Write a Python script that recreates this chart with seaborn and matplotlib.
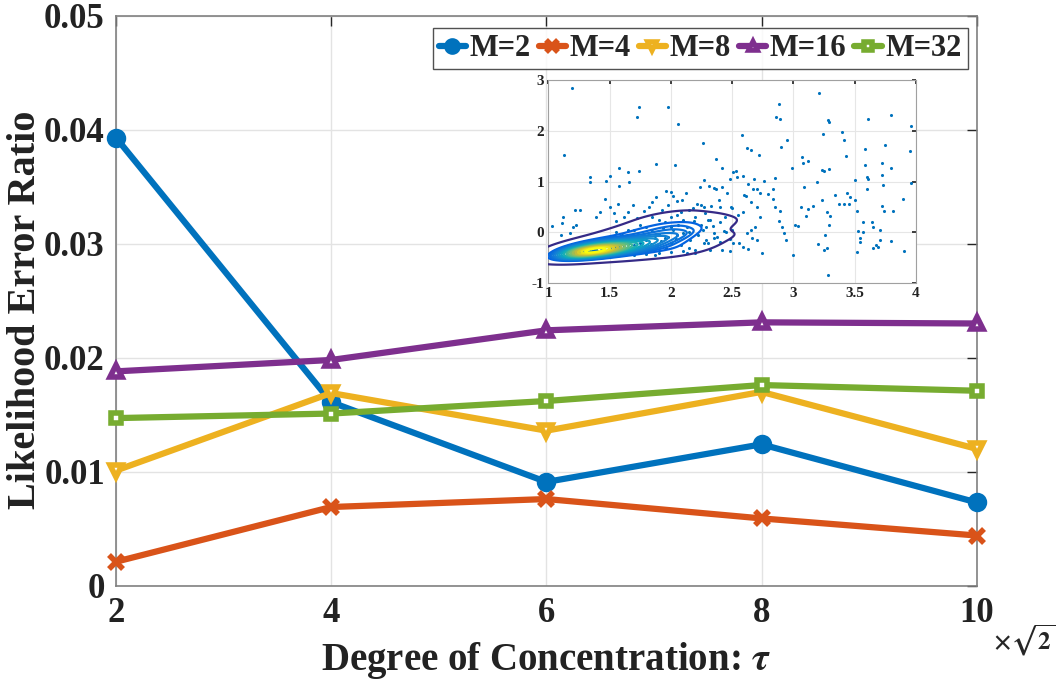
import numpy as np
import pandas as pd
import matplotlib
matplotlib.use("Agg")
import matplotlib.pyplot as plt
from matplotlib.colors import LinearSegmentedColormap
import seaborn as sns

# ---------------- data ----------------
tau = [2, 4, 6, 8, 10]
labels = ["M=2", "M=4", "M=8", "M=16", "M=32"]
m2 = [0.0393, 0.0161, 0.0091, 0.0124, 0.0073]
m4 = [0.0021, 0.0069, 0.0076, 0.0059, 0.0044]
m8 = [0.0101, 0.0169, 0.0136, 0.0170, 0.0120]
m16 = [0.0188, 0.0198, 0.0224, 0.0231, 0.0230]
m32 = [0.0147, 0.0151, 0.0162, 0.0176, 0.0171]
yticks = [0, 0.01, 0.02, 0.03, 0.04, 0.05]
yticklabels = ["0", "0.01", "0.02", "0.03", "0.04", "0.05"]
xticks = [2, 4, 6, 8, 10]

# inset: scattered samples
scat_x = [1.19, 1.13, 1.03, 1.72, 1.74, 1.98, 2.06, 1.34, 1.34, 1.47, 1.50, 1.58, 1.58, 1.65, 1.66, 1.74,
          1.46, 1.88, 2.03, 2.26, 2.37, 2.42, 2.58, 2.62, 2.65, 2.72, 2.88, 2.86, 2.89, 2.95, 2.90, 2.99,
          3.21, 3.28, 3.29, 3.24, 3.40, 3.41, 3.61, 3.80, 3.96, 3.95, 3.75, 3.58, 3.43, 3.07, 3.12, 3.08,
          3.23, 3.25, 3.29, 3.58, 3.72, 3.80, 3.96, 3.60, 3.61, 3.72, 3.73, 3.50, 3.60, 3.72, 3.74, 3.81,
          3.89, 3.19, 3.09, 3.12, 3.06, 3.10, 3.16, 3.23, 3.34, 3.44, 3.46, 3.50, 3.37, 3.41, 3.45, 3.52,
          3.57, 3.64, 3.65, 3.53, 3.57, 3.54, 3.54, 3.52, 3.65, 3.67, 3.69, 3.80, 3.90, 3.71, 3.71, 3.28,
          3.27, 3.25, 3.20, 3.26, 3.29, 3.30, 3.27, 3.00, 3.01, 3.04, 2.94, 2.92, 2.91, 2.88, 2.89, 2.85,
          2.83, 2.79, 2.73, 2.70, 2.67, 2.63, 2.68, 2.76, 2.85, 2.83, 2.61, 2.60, 2.54, 2.59, 2.51, 2.53,
          2.48, 2.37, 2.35, 2.31, 2.24, 2.27, 2.46, 2.42, 2.49, 2.50, 2.59, 2.65, 2.70, 2.73, 2.69, 2.65,
          2.62, 2.66, 2.70, 2.74, 2.63, 2.59, 2.56, 2.51, 2.48, 2.42, 2.40, 2.29, 2.32, 2.27, 2.20, 2.13,
          1.87, 2.35, 2.29, 2.32, 2.27, 2.21, 2.12, 1.96, 2.00, 1.88, 1.82, 2.02, 2.09, 2.39, 2.40, 1.69,
          1.57, 1.50, 1.42, 1.39, 1.54, 1.65, 1.26, 1.22, 1.12, 1.11, 1.20, 1.23, 1.10, 1.18,
          1.62, 1.78, 1.93, 2.08, 2.18, 2.28, 2.44, 1.55, 1.72, 1.98, 2.15, 2.33, 2.55, 1.85, 2.05, 2.25,
          2.43, 2.48, 2.45, 2.50]
scat_y = [2.85, 1.52, 0.13, 2.28, 2.46, 2.47, 2.13, 1.09, 0.99, 1.01, 1.12, 1.26, 0.91, 1.18, 0.99, 1.20,
          0.65, 1.35, 1.32, 1.77, 1.44, 1.27, 1.91, 1.66, 1.62, 1.52, 2.52, 2.27, 2.23, 1.82, 1.68, 1.26,
          2.74, 2.21, 2.18, 1.94, 1.97, 1.82, 2.24, 2.32, 2.10, 1.61, 1.72, 1.64, 1.50, 1.49, 1.40, 1.36,
          1.23, 1.21, 1.24, 1.33, 1.36, 1.27, 0.98, 1.10, 1.05, 1.13, 0.93, 1.04, 0.85, 0.53, 0.43, 0.43,
          0.66, 0.99, 0.89, 0.46, 0.51, 0.32, 0.53, 0.64, 0.74, 0.77, 0.70, 0.64, 0.56, 0.57, 0.56, 0.42,
          0.21, 0.21, 0.11, 0.03, 0.00, -0.11, -0.18, -0.38, -0.30, -0.25, -0.29, -0.17, -0.36, -0.15, 0.04, -0.84,
          -0.31, -0.34, -0.23, -0.05, 0.15, 0.32, 0.41, -0.44, 0.15, 0.13, -0.15, -0.02, 0.11, 0.23, 0.43, 0.51,
          0.65, 0.76, 0.77, 0.85, 0.85, 0.95, 1.05, 1.01, 1.07, 0.86, 0.72, 0.74, 1.10, 1.11, 1.18, 1.21,
          1.05, 0.86, 0.88, 0.91, 0.90, 1.03, 0.78, 0.90, 0.51, 0.48, 0.41, 0.59, 0.51, 0.31, 0.11, 0.05,
          -0.02, -0.10, -0.15, -0.40, -0.32, -0.28, -0.20, -0.20, -0.36, -0.34, -0.18, -0.15, -0.34, -0.20, -0.40, -0.40,
          -0.44, -0.02, 0.11, 0.24, 0.51, 0.56, 0.78, 0.82, 0.80, 0.70, 0.51, 0.72, 0.64, 0.64, 0.51, 0.54,
          0.57, 0.51, 0.41, 0.31, 0.39, 0.41, 0.44, 0.44, 0.30, 0.19, 0.11, 0.15, -0.05, -0.02,
          0.30, 0.42, 0.45, 0.40, 0.48, 0.38, 0.30, 0.22, 0.28, 0.55, 0.45, 0.52, 0.35, 0.60, 0.62, 0.55,
          0.02, -0.12, 0.00, 0.05]

# inset: dense cluster samples
clus_x = [1.15, 1.18, 1.20, 1.22, 1.24, 1.25, 1.26, 1.27, 1.28, 1.29, 1.30, 1.30, 1.31, 1.32, 1.33, 1.34,
          1.35, 1.36, 1.37, 1.38, 1.39, 1.40, 1.41, 1.42, 1.43, 1.45, 1.46, 1.47, 1.48, 1.50, 1.51, 1.52,
          1.54, 1.55, 1.57, 1.58, 1.60, 1.62, 1.63, 1.65, 1.67, 1.68, 1.70, 1.72, 1.73, 1.75, 1.77, 1.78,
          1.80, 1.82, 1.84, 1.85, 1.87, 1.89, 1.90, 1.92, 1.94, 1.96, 1.98, 2.00, 2.02, 2.04, 2.06, 2.08,
          2.10, 2.13, 2.16, 2.19, 2.22, 2.26, 2.30, 2.34, 2.38, 1.14, 1.20, 1.25, 1.35, 1.45,
          1.55, 1.60, 1.70, 1.80, 1.95, 2.00, 1.50, 1.70, 1.90, 2.20, 1.21, 1.23, 1.27, 1.29, 1.31, 1.33,
          1.36, 1.38, 1.40, 1.44,
          1.90, 2.00, 2.05, 2.10, 2.15, 2.20, 2.30, 2.35, 2.40, 1.75, 1.85, 1.65, 1.60, 1.80,
          2.00, 2.10, 1.95, 2.05, 2.15, 2.25, 1.55, 1.45, 1.30, 1.40]
clus_y = [-0.38, -0.35, -0.40, -0.33, -0.38, -0.42, -0.36, -0.30, -0.39, -0.35, -0.41, -0.37, -0.33, -0.38, -0.43, -0.36,
          -0.31, -0.39, -0.35, -0.42, -0.33, -0.37, -0.29, -0.40, -0.35, -0.32, -0.38, -0.27, -0.36, -0.31, -0.41, -0.34,
          -0.28, -0.37, -0.30, -0.24, -0.33, -0.27, -0.38, -0.22, -0.30, -0.16, -0.25, -0.35, -0.10, -0.20, -0.28, -0.05,
          -0.15, -0.32, -0.22, 0.02, -0.10, -0.26, -0.03, -0.17, 0.08, -0.30, -0.08, -0.20, 0.05, -0.12, 0.15, -0.25,
          -0.02, 0.10, -0.15, 0.22, -0.05, 0.05, -0.20, 0.12, -0.08, -0.30, -0.25, -0.20, -0.15, -0.10,
          0.00, -0.05, 0.05, 0.10, 0.20, 0.30, -0.45, -0.45, -0.40, -0.35, -0.37, -0.39, -0.36, -0.38, -0.36, -0.39,
          -0.37, -0.36, -0.39, -0.36,
          0.25, 0.10, 0.35, 0.25, -0.30, 0.30, 0.25, -0.10, 0.20, 0.15, 0.30, 0.05, -0.45, -0.42,
          -0.38, -0.36, -0.10, -0.05, 0.00, 0.15, -0.15, -0.20, -0.25, -0.45]
kde_levels = [0.05, 0.30, 0.38, 0.44, 0.50, 0.55, 0.60, 0.64, 0.68, 0.72, 0.76, 0.79,
              0.82, 0.85, 0.88, 0.91, 0.94, 0.97]

# ---------------- style ----------------
sns.set_theme(style="white")
plt.rcParams["font.family"] = ["Liberation Serif", "DejaVu Serif"]
plt.rcParams["font.weight"] = "bold"
plt.rcParams["mathtext.fontset"] = "stix"

colors = ["#0072BD", "#D95319", "#EDB120", "#7E2F8E", "#77AC30"]
markers = ["o", "x", "v", "^", "s"]
faces = ["#0072BD", "#D95319", "white", "white", "white"]
msizes = [10, 10, 8, 8, 7]
series = [m2, m4, m8, m16, m32]

fig = plt.figure(figsize=(10.64, 6.83), dpi=100)
ax = fig.add_axes([0.109, 0.1425, 0.809, 0.8345])

for lab, vals, c, mk, fc, ms in zip(labels, series, colors, markers, faces, msizes):
    df = pd.DataFrame({"tau": tau, "val": vals})
    sns.lineplot(data=df, x="tau", y="val", ax=ax, color=c, linewidth=4.5,
                 marker=mk, markersize=ms, markerfacecolor=fc,
                 markeredgecolor=c, markeredgewidth=4, label=lab, clip_on=False, zorder=3)

ax.set_xlim(2, 10)
ax.set_ylim(0, 0.05)
ax.set_xticks(xticks)
ax.set_yticks(yticks)
ax.set_yticklabels(yticklabels)
ax.grid(True, color="#e3e3e3", linewidth=1.0)
ax.tick_params(direction="in", length=7, width=1, color="#262626",
               top=True, right=True, labelsize=25, pad=8)
for lbl in ax.get_xticklabels() + ax.get_yticklabels():
    lbl.set_fontweight("bold")
    lbl.set_color("#222222")
for s in ax.spines.values():
    s.set_color("#808080")
    s.set_linewidth(1.2)
ax.set_xlabel(r"Degree of Concentration: $\tau$", fontsize=28, fontweight="bold", color="#222222")
ax.set_ylabel("Likelihood Error Ratio", fontsize=29, fontweight="bold", color="#222222")
ax.xaxis.set_label_coords(0.5, -0.096)
ax.xaxis.label.set_va("top")
ax.yaxis.set_label_coords(-0.084, 0.484)

leg = ax.legend(loc="upper right", bbox_to_anchor=(0.9895, 0.978), ncol=5, fontsize=22,
                frameon=True, fancybox=False, handlelength=0.9, handletextpad=0.12,
                columnspacing=0.25, borderpad=0.2, borderaxespad=0.0, markerscale=0.8)
leg.get_frame().set_edgecolor("#262626")
leg.get_frame().set_linewidth(1.0)
for t in leg.get_texts():
    t.set_fontweight("bold")

fig.text(1024 / 1064, 1 - 640 / 683, r"$\times\sqrt{\mathbf{2}}$", fontsize=18,
         ha="center", va="center")

# ---------------- inset ----------------
parula = LinearSegmentedColormap.from_list("parula", [
    (0.2081, 0.1663, 0.5292), (0.0116, 0.3875, 0.8820), (0.0780, 0.5200, 0.8300),
    (0.0383, 0.6742, 0.7435), (0.3946, 0.7464, 0.4921), (0.7956, 0.7393, 0.2084),
    (0.9763, 0.9831, 0.0538)])

axi = fig.add_axes([0.5153, 0.5852, 0.3456, 0.2977])
sns.scatterplot(x=scat_x + clus_x, y=scat_y + clus_y, ax=axi, s=5, color="#0072BD",
                linewidth=0, zorder=2)
sns.kdeplot(x=clus_x, y=clus_y, ax=axi, levels=kde_levels, cmap=parula,
            linewidths=1.6, bw_adjust=1.12, zorder=3)
axi.set_xlim(1, 4)
axi.set_ylim(-1, 3)
axi.set_xticks([1, 1.5, 2, 2.5, 3, 3.5, 4])
axi.set_xticklabels(["1", "1.5", "2", "2.5", "3", "3.5", "4"])
axi.set_yticks([-1, 0, 1, 2, 3])
axi.set_yticklabels(["-1", "0", "1", "2", "3"])
axi.grid(True, color="#e6e6e6", linewidth=0.8)
axi.tick_params(direction="in", length=3, labelsize=11, pad=3, top=True, right=True,
                color="#262626")
for lbl in axi.get_xticklabels() + axi.get_yticklabels():
    lbl.set_fontweight("bold")
    lbl.set_color("#222222")
for s in axi.spines.values():
    s.set_color("#a0a0a0")
    s.set_linewidth(0.8)
axi.set_xlabel("")
axi.set_ylabel("")

fig.savefig("out.png", dpi=100)
